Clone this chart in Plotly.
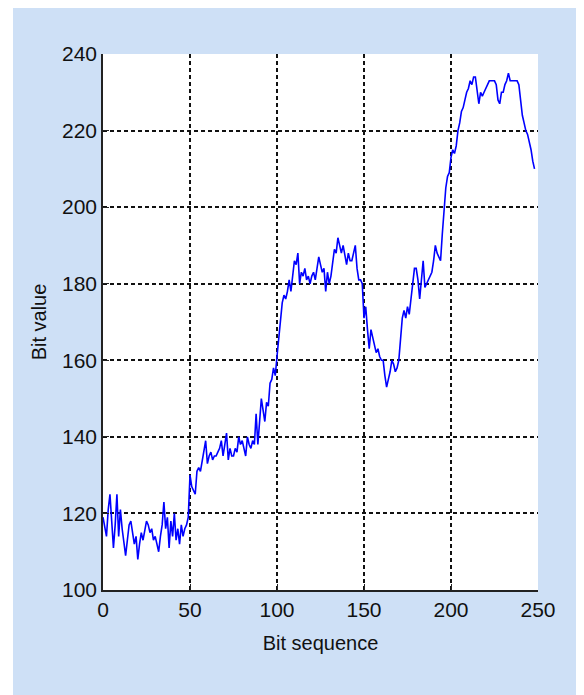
import plotly.graph_objects as go

# Bit values (x = 0 .. 248)
seg_0_49 = [119, 116, 114, 121, 125, 118, 111, 117, 125, 114,
            121, 116, 112, 109, 113, 117, 118, 115, 112, 114,
            108, 112, 115, 113, 116, 118, 117, 115, 116, 113,
            114, 112, 110, 114, 117, 123, 116, 119, 111, 118,
            114, 120, 113, 116, 112, 117, 114, 116, 117, 119]
seg_50_99 = [130, 127, 126, 125, 131, 132, 131, 134, 136, 139,
             133, 135, 136, 134, 135, 135, 136, 137, 139, 135,
             138, 141, 134, 137, 135, 135, 137, 136, 140, 138,
             139, 137, 135, 140, 138, 137, 139, 138, 146, 138,
             143, 150, 147, 144, 149, 148, 154, 155, 158, 156]
seg_100_149 = [161, 166, 171, 175, 177, 176, 178, 181, 178, 183,
               186, 185, 188, 180, 183, 182, 184, 181, 182, 180,
               182, 183, 181, 184, 187, 185, 183, 184, 178, 183,
               180, 182, 186, 189, 188, 192, 190, 188, 190, 187,
               185, 188, 186, 186, 188, 190, 184, 181, 181, 180]
seg_150_199 = [171, 174, 168, 163, 168, 166, 164, 162, 163, 161,
               160, 160, 156, 153, 155, 157, 160, 159, 157, 158,
               160, 166, 171, 173, 171, 174, 172, 176, 181, 184,
               184, 181, 176, 181, 186, 179, 180, 181, 182, 183,
               186, 190, 188, 187, 186, 193, 199, 205, 208, 209]
seg_200_248 = [213, 215, 214, 216, 220, 222, 225, 226, 228, 230,
               231, 233, 232, 234, 234, 230, 227, 230, 229, 230,
               231, 232, 233, 233, 233, 233, 232, 228, 227, 230,
               230, 232, 233, 235, 233, 233, 233, 233, 233, 232,
               228, 224, 222, 220, 219, 217, 215, 212, 210]

bit_values = seg_0_49 + seg_50_99 + seg_100_149 + seg_150_199 + seg_200_248
bit_sequence = list(range(len(bit_values)))

x_ticks = [0, 50, 100, 150, 200, 250]
y_ticks = [100, 120, 140, 160, 180, 200, 220, 240]

FONT = "Liberation Sans, Arial, sans-serif"
BLUE_BG = "rgb(206,224,246)"

W, H = 576, 687
L, R, T, B = 95, 46, 46, 105
PW, PH = W - L - R, H - T - B

fig = go.Figure()
fig.add_trace(go.Scatter(
    x=bit_sequence, y=bit_values, mode="lines",
    line=dict(color="#0000ff", width=1.6), showlegend=False,
))

grid = dict(showgrid=True, gridcolor="#111111", gridwidth=1.5, griddash="4px,3px")
fig.update_xaxes(
    range=[0, 250], tickvals=x_ticks, ticks="inside", ticklen=6,
    tickcolor="#222", showline=True, linecolor="#222", linewidth=1.5,
    mirror=False, zeroline=False,
    tickfont=dict(family=FONT, size=21, color="#111"),
    title=dict(text="Bit sequence", font=dict(family=FONT, size=20, color="#111"),
               standoff=16),
    **grid,
)
fig.update_yaxes(
    range=[100, 240], tickvals=y_ticks, ticks="inside", ticklen=6,
    tickcolor="#222", showline=True, linecolor="#222", linewidth=1.5,
    mirror=False, zeroline=False,
    tickfont=dict(family=FONT, size=21, color="#111"),
    title=dict(text="Bit value", font=dict(family=FONT, size=20, color="#111"),
               standoff=10),
    **grid,
)

# white page strip left of the blue figure area
fig.add_shape(type="rect", xref="paper", yref="paper", layer="above",
              x0=-0.4, x1=(5 - L) / PW, y0=-0.4, y1=1.4,
              fillcolor="white", line=dict(width=0))

fig.update_layout(
    width=W, height=H,
    margin=dict(l=L, r=R, t=T, b=B, autoexpand=False),
    paper_bgcolor=BLUE_BG, plot_bgcolor="white",
)

fig.write_html("out.html")
